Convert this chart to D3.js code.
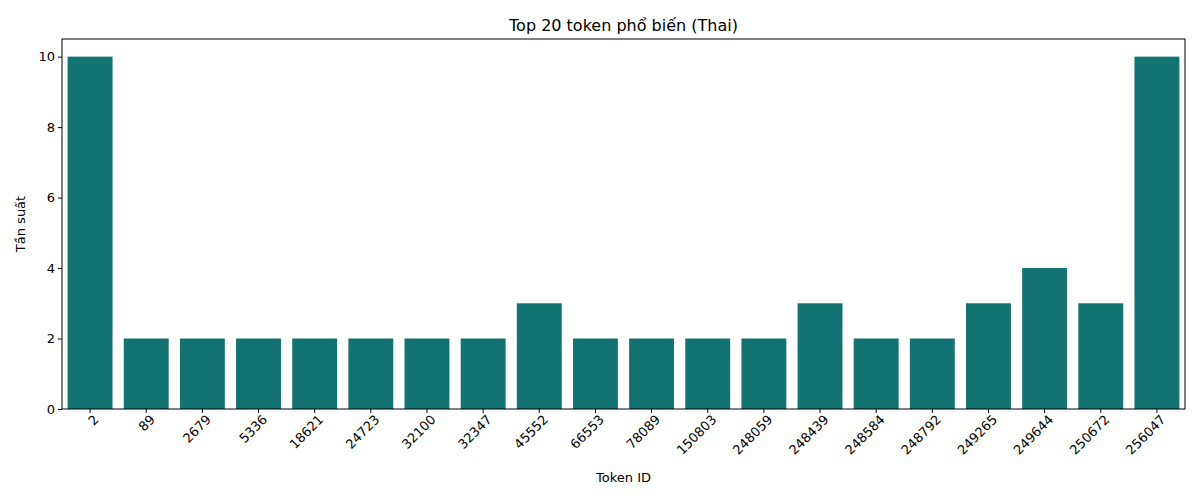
<!DOCTYPE html>
<html><head><meta charset="utf-8">
<script src="https://cdn.jsdelivr.net/npm/d3@7"></script>
<style>body{margin:0;background:#fff;font-family:"DejaVu Sans",sans-serif}</style>
</head><body><svg id="chart" width="1200" height="500"></svg>
<script>
var tokens = ["2","89","2679","5336","18621","24723","32100","32347","45552","66553","78089","150803","248059","248439","248584","248792","249265","249644","250672","256047"];
var counts = [10,2,2,2,2,2,2,2,3,2,2,2,2,3,2,2,3,4,3,10];
var yTicks = [0,2,4,6,8,10];

var svg = d3.select("#chart");
var m = {l: 62, r: 15, t: 39, b: 91};
var W = 1200 - m.l - m.r, H = 500 - m.t - m.b;
var g = svg.append("g").attr("transform", `translate(${m.l},${m.t})`);

var x = d3.scaleBand().domain(tokens).range([0, W]).paddingInner(0.2).paddingOuter(0.1);
var y = d3.scaleLinear().domain([0, 10.5]).range([H, 0]);

g.selectAll("rect").data(tokens).enter().append("rect")
  .attr("x", d => x(d)).attr("width", x.bandwidth())
  .attr("y", (d, i) => y(counts[i])).attr("height", (d, i) => H - y(counts[i]))
  .attr("fill", "#137373");

var xa = g.append("g").attr("transform", `translate(0,${H})`).call(d3.axisBottom(x).tickSize(4));
xa.selectAll("text").attr("font-size", 13).attr("fill", "#000")
  .attr("text-anchor", "end").attr("dx", "-0.1em").attr("dy", "0.6em")
  .attr("transform", "rotate(-45)");
var ya = g.append("g").call(d3.axisLeft(y).tickValues(yTicks).tickSize(4));
ya.selectAll("text").attr("font-size", 13).attr("fill", "#000");
[xa, ya].forEach(a => { a.select(".domain").remove(); a.attr("font-family", "DejaVu Sans"); });

g.append("rect").attr("width", W).attr("height", H).attr("fill", "none").attr("stroke", "#000").attr("stroke-width", 1);

svg.append("text").attr("x", m.l + W / 2).attr("y", 31).attr("text-anchor", "middle")
  .attr("font-size", 16).text("Top 20 token phổ biến (Thai)");
svg.append("text").attr("x", m.l + W / 2).attr("y", 482).attr("text-anchor", "middle")
  .attr("font-size", 13).text("Token ID");
svg.append("text").attr("transform", `translate(25,${m.t + H / 2}) rotate(-90)`).attr("text-anchor", "middle")
  .attr("font-size", 13).text("Tần suất");
</script></body></html>
